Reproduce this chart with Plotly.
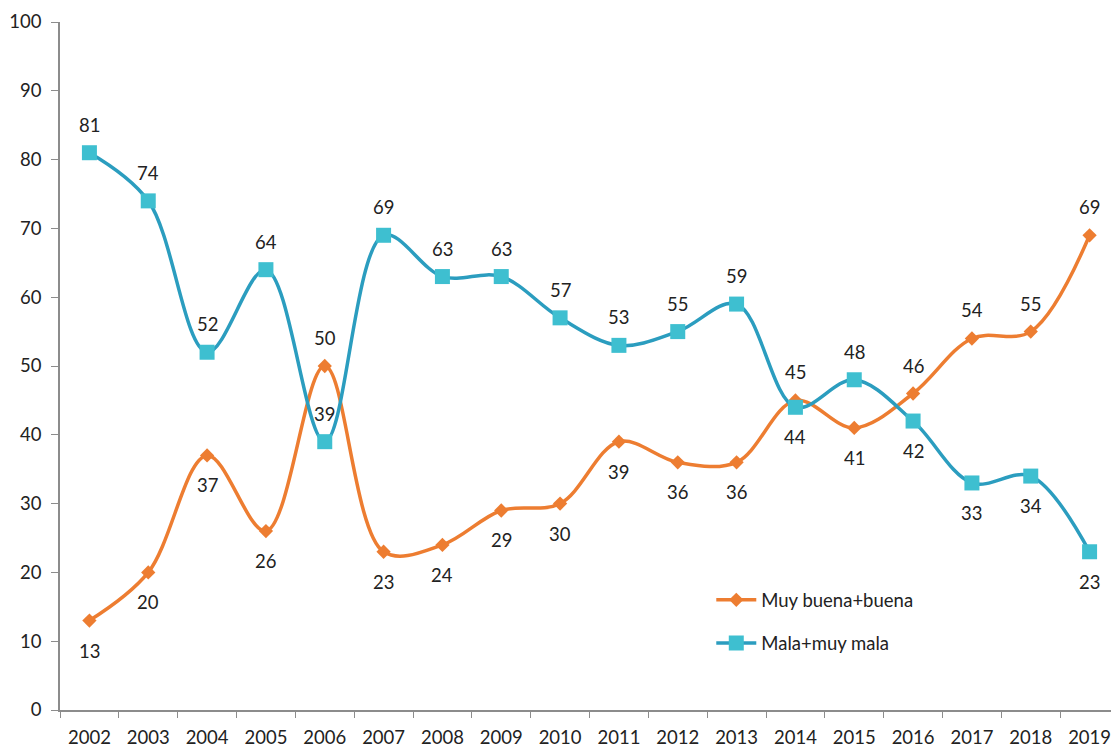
import plotly.graph_objects as go

years = [str(y) for y in range(2002, 2020)]
buena = [13, 20, 37, 26, 50, 23, 24, 29, 30, 39, 36, 36, 45, 41, 46, 54, 55, 69]
mala = [81, 74, 52, 64, 39, 69, 63, 63, 57, 53, 55, 59, 44, 48, 42, 33, 34, 23]
buena_pos = ["below"] * 4 + ["above"] + ["below"] * 7 + ["above", "below", "above", "above", "above", "above"]
mala_pos = ["above"] * 12 + ["below", "above", "below", "below", "below", "below"]

ORANGE = "#ED7D31"
BLUE_LINE = "#2B9DBF"
BLUE_MARK = "#3EBFD0"
FONT = "Lato, 'Open Sans', sans-serif"
FS = 18.5

fig = go.Figure()
fig.add_trace(go.Scatter(
    x=years, y=buena, name="Muy buena+buena", mode="lines+markers",
    legendgroup="a",
    line=dict(color=ORANGE, width=3.5, shape="spline", smoothing=1.0),
    marker=dict(symbol="diamond", size=11, color=ORANGE),
))
fig.add_trace(go.Scatter(
    x=years, y=mala, name="Mala+muy mala", mode="lines+markers",
    legendgroup="b",
    line=dict(color=BLUE_LINE, width=3.5, shape="spline", smoothing=1.0),
    marker=dict(symbol="square", size=15, color=BLUE_MARK),
))

annotations = []
for vals, pos in ((buena, buena_pos), (mala, mala_pos)):
    for i, (v, p) in enumerate(zip(vals, pos)):
        annotations.append(dict(
            x=i, y=v, xref="x", yref="y", text=str(v), showarrow=False,
            yshift=28 if p == "above" else -30,
            font=dict(size=FS, color="#222222", family=FONT),
        ))

fig.update_layout(
    width=1111, height=739,
    margin=dict(l=52, r=0, t=14, b=37),
    paper_bgcolor="white", plot_bgcolor="white",
    font=dict(family=FONT, size=FS, color="#222222"),
    showlegend=True,
    legend=dict(x=0.615, y=0.187, xanchor="left", yanchor="top",
                bgcolor="rgba(0,0,0,0)", font=dict(size=FS),
                tracegroupgap=16, itemwidth=40),
    annotations=annotations,
    xaxis=dict(type="category", range=[-0.5, 17.5], showgrid=False,
               showline=True, linecolor="#8c8c8c", linewidth=1.5,
               ticks="outside", tickson="boundaries", ticklen=6,
               tickcolor="#8c8c8c", tickfont=dict(size=FS),
               ticklabelstandoff=10),
    yaxis=dict(range=[0, 100], dtick=10, showgrid=False, zeroline=False,
               showline=True, linecolor="#8c8c8c", linewidth=1.5,
               ticks="outside", ticklen=7, tickcolor="#8c8c8c",
               tickfont=dict(size=FS), ticklabelstandoff=6),
)

fig.write_html("out.html")
